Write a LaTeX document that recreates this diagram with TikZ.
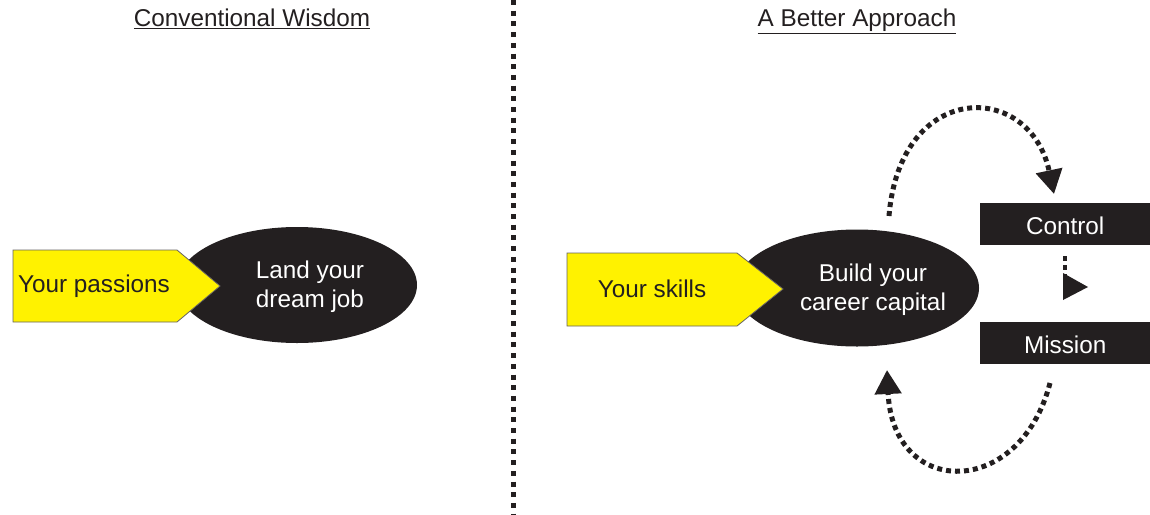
\documentclass[tikz,border=0pt]{standalone}
\usepackage{fontspec}
\setmainfont{Liberation Sans}
\usetikzlibrary{shapes.geometric,arrows.meta}
\definecolor{ink}{HTML}{231F20}
\definecolor{ylw}{HTML}{FFF200}
\tikzset{
  lbl/.style={font=\fontsize{24.3}{29}\selectfont, text=ink, inner sep=0pt, align=center},
  wlbl/.style={lbl, text=white},
  oval/.style={ellipse, fill=ink, draw=none, inner sep=0pt},
  ybox/.style={fill=ylw, draw=ink!70, line width=0.8pt, line join=miter},
  bbox/.style={fill=ink, draw=none, inner sep=0pt, minimum width=170pt, minimum height=42pt},
  sep/.style={draw=ink, line width=5pt, dash pattern=on 5pt off 5.7pt},
  dotc/.style={draw=ink, line width=5pt, dash pattern=on 5pt off 4pt},
  tip/.style={-{Triangle[length=24pt,width=26pt]}},
}
\begin{document}
\begin{tikzpicture}[x=1pt,y=-1pt]
\useasboundingbox (0,0) rectangle (1150,514);
% separator
\coordinate (s1) at (513,0);
\coordinate (s2) at (513,514);
\draw[sep] (s1) -- (s2);
% titles
\node[lbl, anchor=base] (title1) at (252,27) {\underline{Conventional Wisdom}};
\node[lbl, anchor=base] (title2) at (857,27) {\underline{A Better Approach}};
% left side
\node[oval, minimum width=240pt, minimum height=116pt] (e1) at (297,285) {};
\draw[ybox] (13,250) -- (177,250) -- (220,286) -- (177,322) -- (13,322) -- cycle;
\node[lbl] (passions) at (94,286) {Your passions};
\node[wlbl] (dream) at (310,287) {Land your\\dream job};
% right side
\node[oval, minimum width=244pt, minimum height=117pt] (e2) at (857,288) {};
\draw[ybox] (567,253) -- (737,253) -- (783,289) -- (737,326) -- (567,326) -- cycle;
\node[lbl] (skills) at (652,289) {Your skills};
\node[wlbl] (capital) at (873,290) {Build your\\career capital};
\node[bbox, anchor=north west] (control) at (980,203) {};
\node[wlbl] at ([yshift=-2pt]control.center) {Control};
\node[bbox, anchor=north west] (mission) at (980,322) {};
\node[wlbl] at ([yshift=-2pt]mission.center) {Mission};
% short connector
\coordinate (m1) at (1065,256);
\coordinate (m2) at (1065,281);
\draw[draw=ink, line width=4.5pt, dash pattern=on 5pt off 4pt] (m1) -- (m2);
\fill[ink] (1063,273) -- (1088,287) -- (1063,300) -- cycle;
% loop arrows
\coordinate (u1) at (889,216);
\coordinate (u2) at (1054,194);
\draw[dotc, tip] (u1) .. controls (900,80) and (1030,80) .. (u2);
\coordinate (l1) at (1050,383);
\coordinate (l2) at (887,370);
\draw[dotc, tip] (l1) .. controls (1020,499) and (893,499) .. (l2);
\end{tikzpicture}
\end{document}
